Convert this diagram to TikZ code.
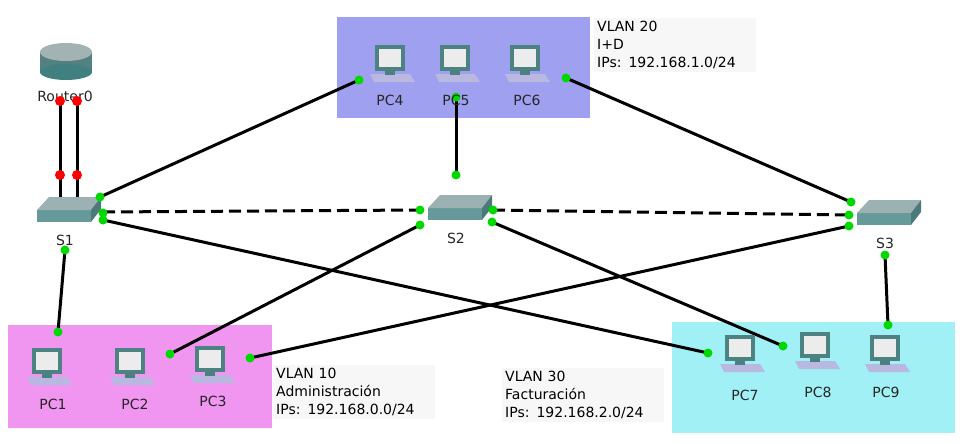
\documentclass[tikz,border=0pt]{standalone}
\usepackage{fontspec}
\setmainfont{DejaVu Sans}
\definecolor{vpurple}{RGB}{160,160,240}
\definecolor{vpink}{RGB}{240,150,240}
\definecolor{vcyan}{RGB}{160,240,245}
\begin{document}
\begin{tikzpicture}[x=1pt,y=-1pt,
  lnk/.style={line width=3pt,black},
  dsh/.style={lnk,dash pattern=on 12pt off 6pt},
  gd/.style={circle,fill=green!85!black,inner sep=0pt,minimum size=9pt},
  rd/.style={circle,fill=red,inner sep=0pt,minimum size=10pt},
  lbl/.style={font=\fontsize{14}{16}\selectfont,text=black!85,inner sep=0pt},
  info/.style={fill=gray!6,font=\fontsize{14}{18}\selectfont,align=left,anchor=north west,inner sep=3pt,text width=156pt},
  pc/.pic={
    \fill[gray!60!blue!40!white] (-20,9) -- (20,9) -- (25,17) -- (-16,17) -- cycle;
    \fill[teal!60!black!70] (-15,-20) rectangle (15,6);
    \fill[gray!15] (-11,-16) rectangle (11,2);
    \fill[teal!40!gray] (-5,6) rectangle (5,10);
  },
  sw/.pic={
    \fill[teal!50!gray!80] (-28,-2) -- (26,-2) -- (26,10) -- (-28,10) -- cycle;
    \fill[teal!30!gray!60] (-28,-2) -- (-16,-15) -- (36,-15) -- (26,-2) -- cycle;
    \fill[teal!50!black!70] (26,-2) -- (36,-15) -- (36,-3) -- (26,10) -- cycle;
  }]
\useasboundingbox (0,0) rectangle (963,444);
\fill[white] (0,0) rectangle (963,444);
% VLAN areas
\fill[vpink] (8,325) rectangle (272,428);
\fill[vpurple] (337,17) rectangle (590,118);
\fill[vcyan] (672,322) rectangle (955,433);
\node[info] (i20) at (594,18) {VLAN 20\\I+D\\IPs: 192.168.1.0/24};
\node[info] (i10) at (273,365) {VLAN 10\\Administración\\IPs: 192.168.0.0/24};
\node[info] (i30) at (502,368) {VLAN 30\\Facturación\\IPs: 192.168.2.0/24};
% router
\fill[teal!35!gray] (40,52) rectangle (92,72);
\fill[teal!50!gray] (66,72) ellipse (26pt and 8pt);
\fill[teal!20!gray!60] (66,52) ellipse (26pt and 9pt);
\node[lbl] (r0) at (65,96) {Router0};
% device coordinates
\coordinate (s1) at (65,212);
\coordinate (s2) at (456,210);
\coordinate (s3) at (885,215);
\foreach \p/\x/\y in {1/47/368,2/130/368,3/210/366,4/390/65,5/455/65,6/525/65,7/740/355,8/815/352,9/885/355}
  \coordinate (pc\p) at (\x,\y);
% links
\draw[lnk] (60,100) coordinate (ra) -- (60,198) coordinate (sa);
\draw[lnk] (77,100) coordinate (rb) -- (77,198) coordinate (sb);
\draw[dsh] (103,212) -- (420,210);
\draw[dsh] (493,210) -- (849,215);
\draw[lnk] (100,197) -- (359,80);
\draw[lnk] (456,97) -- (456,175);
\draw[lnk] (566,78) -- (851,202);
\draw[lnk] (103,220) -- (708,353);
\draw[lnk] (492,222) -- (783,346);
\draw[lnk] (420,225) -- (170,354);
\draw[lnk] (849,226) -- (250,358);
\draw[lnk] (65,250) -- (58,332);
\draw[lnk] (885,255) -- (888,325);
% icons
\foreach \p in {1,...,9} \pic at (pc\p) {pc};
\pic at (s1) {sw};
\pic at (s2) {sw};
\pic at (s3) {sw};
% dots
\foreach \x/\y in {60/101,77/101,60/175,77/175} \node[rd] at (\x,\y) {};
\foreach \x/\y in {100/197,103/213,103/220,359/80,456/97,456/175,566/78,851/202,420/210,420/225,493/210,492/222,849/215,849/226,708/353,783/346,170/354,250/358,65/250,58/332,885/255,888/325}
  \node[gd] at (\x,\y) {};
% labels
\node[lbl] (l1) at (65,240) {S1};
\node[lbl] (l2) at (456,238) {S2};
\node[lbl] (l3) at (885,243) {S3};
\foreach \p/\x/\y in {1/53/404,2/135/404,3/213/401,4/390/100,5/456/100,6/527/100,7/745/395,8/818/392,9/886/392}
  \node[lbl] at (\x,\y) {PC\p};
\end{tikzpicture}
\end{document}
